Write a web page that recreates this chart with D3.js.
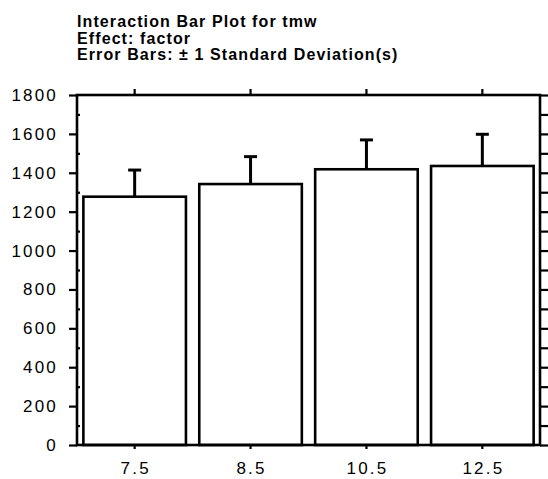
<!DOCTYPE html>
<html>
<head>
<meta charset="utf-8">
<script src="https://cdn.jsdelivr.net/npm/d3@7"></script>
<style>
  body { margin: 0; background: #fff; }
  svg { display: block; }
  .title { font-family: "Liberation Sans", Arial, sans-serif; font-weight: bold; font-size: 16px; letter-spacing: 1.1px; }
  .axis text { font-family: "Liberation Sans", Arial, sans-serif; font-size: 17px; letter-spacing: 2.2px; fill: #000; }
  .axis line { stroke: #000; stroke-width: 2.2; }
</style>
</head>
<body>
<div id="graph"></div>
<script>
// factor levels and mean / sd of tmw
var levels = ['7.5', '8.5', '10.5', '12.5']
var means = [1277, 1342, 1418, 1435]
var sds = [137, 141, 151, 163]
var yTicks = [0, 200, 400, 600, 800, 1000, 1200, 1400, 1600, 1800]
var titleLines = ['Interaction Bar Plot for tmw', 'Effect: factor', 'Error Bars: \u00b1 1 Standard Deviation(s)']

var data = levels.map(function(d, i){ return {level: d, mean: means[i], sd: sds[i]} })

var W = 548, H = 479
var margin = {left: 77, right: 8, top: 95, bottom: 34}

var svg = d3.select('#graph').append('svg').attr('width', W).attr('height', H)

var x = d3.scaleBand().domain(levels)
  .range([margin.left, W - margin.right])
  .paddingInner(0.115).paddingOuter(0.055)
var y = d3.scaleLinear().domain([0, 1800]).range([H - margin.bottom, margin.top])

// title
svg.selectAll('text.title').data(titleLines).enter().append('text')
  .attr('class', 'title')
  .attr('x', margin.left)
  .attr('y', function(d, i){ return 27 + i * 16.5 })
  .text(function(d){ return d })

// bars
svg.selectAll('rect.bar').data(data).enter().append('rect')
  .attr('class', 'bar')
  .attr('x', function(d){ return x(d.level) })
  .attr('width', x.bandwidth())
  .attr('y', function(d){ return y(d.mean) })
  .attr('height', function(d){ return y(0) - y(d.mean) })
  .attr('fill', '#fff').attr('stroke', '#000').attr('stroke-width', 2.6)

// error bars (upper only)
var err = svg.selectAll('g.err').data(data).enter().append('g')
  .attr('transform', function(d){ return 'translate(' + (x(d.level) + x.bandwidth() / 2) + ',0)' })
err.append('line')
  .attr('y1', function(d){ return y(d.mean) })
  .attr('y2', function(d){ return y(d.mean + d.sd) })
  .attr('stroke', '#000').attr('stroke-width', 3)
err.append('line')
  .attr('x1', -6.5).attr('x2', 6.5)
  .attr('y1', function(d){ return y(d.mean + d.sd) })
  .attr('y2', function(d){ return y(d.mean + d.sd) })
  .attr('stroke', '#000').attr('stroke-width', 3)

// axes
var leftAx = svg.append('g').attr('class', 'axis')
  .attr('transform', 'translate(' + margin.left + ',0)')
  .call(d3.axisLeft(y).tickValues(yTicks).tickSize(8).tickPadding(11).tickFormat(d3.format('d')))
leftAx.select('.domain').remove()

var minorAx = svg.append('g').attr('class', 'axis')
  .attr('transform', 'translate(' + margin.left + ',0)')
  .call(d3.axisRight(y).tickValues(d3.range(100, 1800, 200)).tickSize(3).tickFormat(''))
minorAx.select('.domain').remove()

var rightAx = svg.append('g').attr('class', 'axis')
  .attr('transform', 'translate(' + (W - margin.right) + ',0)')
  .call(d3.axisRight(y).tickValues(d3.range(0, 1801, 100)).tickSize(8).tickFormat(''))
rightAx.select('.domain').remove()

var topAx = svg.append('g').attr('class', 'axis')
  .attr('transform', 'translate(0,' + margin.top + ')')
  .call(d3.axisTop(x).tickSize(6).tickFormat(''))
topAx.select('.domain').remove()

var bottomAx = svg.append('g').attr('class', 'axis')
  .attr('transform', 'translate(0,' + (H - margin.bottom) + ')')
  .call(d3.axisBottom(x).tickSize(4).tickPadding(13))
bottomAx.select('.domain').remove()
bottomAx.selectAll('text').attr('dx', '1px')

// frame
svg.append('rect')
  .attr('x', margin.left).attr('y', margin.top)
  .attr('width', W - margin.right - margin.left)
  .attr('height', y(0) - margin.top)
  .attr('fill', 'none').attr('stroke', '#000').attr('stroke-width', 2.6)
</script>
</body>
</html>
